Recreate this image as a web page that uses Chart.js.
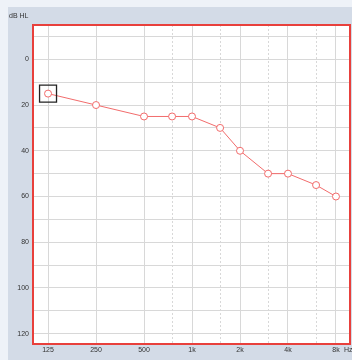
<!DOCTYPE html>
<html>
<head>
<meta charset="utf-8">
<script src="https://cdn.jsdelivr.net/npm/chart.js@4"></script>
<style>
  html, body { margin: 0; padding: 0; background: #eef2f8; }
  #panel { position: absolute; left: 8px; top: 7px; width: 344px; height: 353px; background: #d3dbe7; }
  #audiogram { position: absolute; left: 0; top: 0; }
</style>
</head>
<body>
<div id="panel"></div>
<canvas id="audiogram" width="352" height="360"></canvas>
<script>
// Frequenzen (Hz) und Hörschwellen (dB HL)
const frequencies = [125, 250, 500, 750, 1000, 1500, 2000, 3000, 4000, 6000, 8000];
const thresholds = [15, 20, 25, 25, 25, 30, 40, 50, 50, 55, 60];
const xTickLabels = ['125', '250', '500', '', '1k', '', '2k', '', '4k', '', '8k'];
const yTickValues = [-10, 0, 10, 20, 30, 40, 50, 60, 70, 80, 90, 100, 110, 120];
const selectedIndex = 0;

const FONT = { family: '"Liberation Sans", Arial, sans-serif', size: 7 };

const points = frequencies.map((f, i) => ({ x: f, y: thresholds[i] }));

// Hintergrund, Rahmen und Beschriftungen
const framePlugin = {
  id: 'frame',
  beforeDraw(chart) {
    const { ctx, chartArea: a } = chart;
    ctx.save();
    ctx.fillStyle = '#fff';
    ctx.fillRect(a.left, a.top, a.right - a.left, a.bottom - a.top);
    ctx.restore();
  },
  afterDraw(chart) {
    const { ctx, chartArea: a } = chart;
    ctx.save();
    ctx.strokeStyle = '#e8403c';
    ctx.lineWidth = 2;
    ctx.strokeRect(a.left, a.top, a.right - a.left, a.bottom - a.top);
    ctx.fillStyle = '#333';
    ctx.font = '7px "Liberation Sans", Arial, sans-serif';
    ctx.textBaseline = 'middle';
    ctx.textAlign = 'left';
    ctx.fillText('dB HL', 9, 16);
    ctx.fillText('Hz', 344, 350);
    ctx.restore();
  }
};

new Chart(document.getElementById('audiogram'), {
  type: 'line',
  data: {
    datasets: [{
      label: 'Auswahl',
      data: [points[selectedIndex]],
      showLine: false,
      pointStyle: 'rect',
      pointRadius: 12,
      pointBorderColor: '#222',
      pointBorderWidth: 1.3,
      pointBackgroundColor: 'rgba(0,0,0,0)'
    }, {
      label: 'Rechts',
      data: points,
      borderColor: '#f26c6c',
      borderWidth: 1,
      pointRadius: 3.5,
      pointBorderColor: '#f26c6c',
      pointBorderWidth: 1,
      pointBackgroundColor: '#fff',
      tension: 0
    }]
  },
  options: {
    responsive: false,
    animation: false,
    devicePixelRatio: 1,
    layout: { autoPadding: false, padding: { top: 25, right: 2, left: 0, bottom: 0 } },
    plugins: { legend: { display: false }, tooltip: { enabled: false } },
    scales: {
      x: {
        type: 'logarithmic',
        min: 100.6,
        max: 9795,
        afterBuildTicks: s => { s.ticks = frequencies.map(v => ({ value: v })); },
        afterFit: s => { s.height = 16; s.paddingLeft = 0; s.paddingRight = 0; },
        grid: {
          drawTicks: false,
          color: '#d8d8d8',
          lineWidth: 1
        },
        border: {
          display: false,
          dash: ctx => (xTickLabels[ctx.index] === '' ? [2, 2] : [])
        },
        ticks: {
          autoSkip: false,
          maxRotation: 0,
          padding: 2,
          color: '#333',
          font: FONT,
          callback: (v, i) => xTickLabels[i]
        }
      },
      y: {
        type: 'linear',
        reverse: true,
        min: -15,
        max: 124.5,
        afterBuildTicks: s => { s.ticks = yTickValues.map(v => ({ value: v })); },
        afterFit: s => { s.width = 33; s.paddingTop = 0; s.paddingBottom = 0; },
        grid: { drawTicks: false, color: '#d8d8d8', lineWidth: 1 },
        border: { display: false },
        ticks: {
          padding: 4,
          color: '#333',
          font: FONT,
          callback: v => (v >= 0 && v % 20 === 0 ? String(v) : '')
        }
      }
    }
  },
  plugins: [framePlugin]
});
</script>
</body>
</html>
